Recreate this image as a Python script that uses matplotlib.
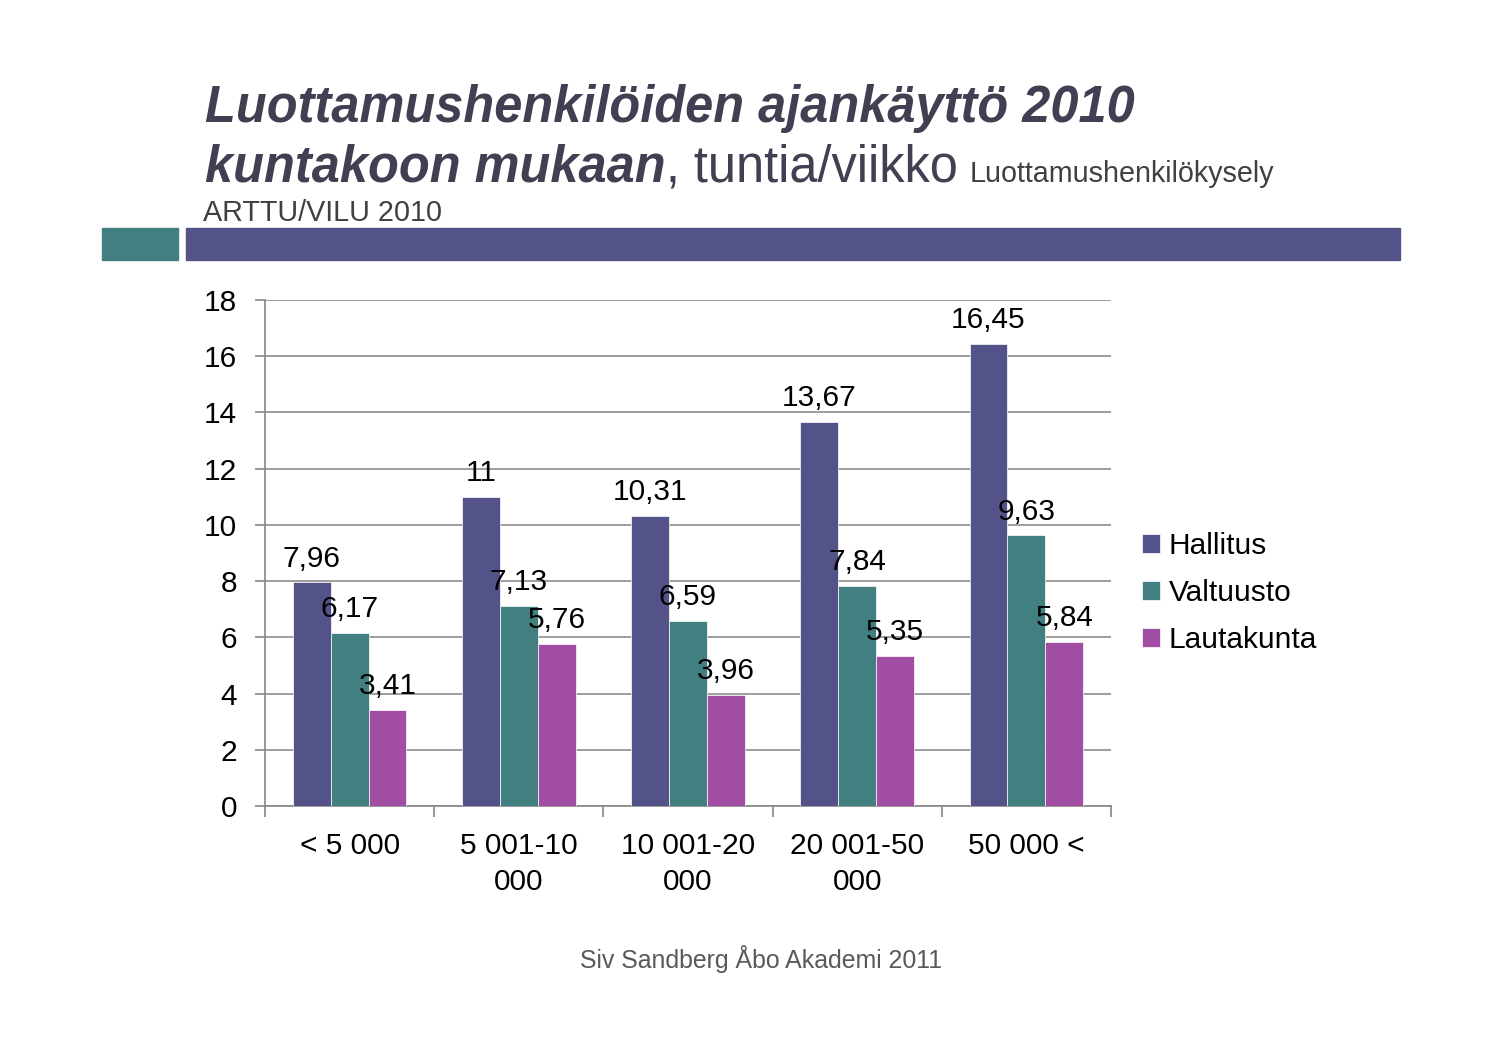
import matplotlib
matplotlib.use("Agg")
import matplotlib.pyplot as plt
import numpy as np
from matplotlib.patches import Rectangle
from matplotlib.transforms import offset_copy

categories = ["< 5 000", "5 001-10\n000", "10 001-20\n000", "20 001-50\n000", "50 000 <"]
series_names = ["Hallitus", "Valtuusto", "Lautakunta"]
hallitus = [7.96, 11, 10.31, 13.67, 16.45]
valtuusto = [6.17, 7.13, 6.59, 7.84, 9.63]
lautakunta = [3.41, 5.76, 3.96, 5.35, 5.84]
yticks = [0, 2, 4, 6, 8, 10, 12, 14, 16, 18]

colors = ["#535389", "#417F80", "#A04DA3"]
FONT = "Liberation Sans"
plt.rcParams['font.family'] = [FONT, 'DejaVu Sans']
FS = 21.5

W, H = 1505, 1063
fig = plt.figure(figsize=(W / 100, H / 100), dpi=100)

def fx(px):
    return px / W

def fy(py):
    return 1 - py / H

ax = fig.add_axes([fx(265), fy(806), fx(1111) - fx(265), fy(300) - fy(806)])

x = np.arange(len(categories))
bw = 0.224
data = [hallitus, valtuusto, lautakunta]
for i, (vals, name, c) in enumerate(zip(data, series_names, colors)):
    pos = x + (i - 1) * bw
    ax.bar(pos, vals, width=bw, color=c, label=name, zorder=3,
           edgecolor='white', linewidth=0.5)
    for xp, v in zip(pos, vals):
        lab = str(int(v)) if v == int(v) else f"{v:g}".replace('.', ',')
        ax.annotate(lab, (xp, v), xytext=(0, 7), textcoords='offset points',
                    ha='center', va='bottom', fontsize=FS, color='black', zorder=5)

ax.set_xlim(-0.5, len(categories) - 0.5)
ax.set_ylim(0, 18)
ax.set_yticks(yticks)
ax.set_yticklabels([str(t) for t in yticks], fontsize=FS)
ax.yaxis.grid(True, color='#8C8C8C', linewidth=1.2, zorder=0)
ax.set_axisbelow(True)
ax.set_xticks(np.arange(-0.5, len(categories), 1.0))
ax.set_xticklabels([])
ax.tick_params(axis='x', direction='out', length=8, color='#868686', width=1.2)
ax.tick_params(axis='y', direction='out', length=7, color='#868686', width=1.2, pad=13)
for s in ['top', 'right']:
    ax.spines[s].set_visible(False)
for s in ['left', 'bottom']:
    ax.spines[s].set_color('#868686')
    ax.spines[s].set_linewidth(1.2)

trans = offset_copy(ax.get_xaxis_transform(), fig=fig, x=0, y=-26, units='dots')
for xi, cat in zip(x, categories):
    ax.text(xi, 0, cat, ha='center', va='top', fontsize=FS,
            transform=trans, linespacing=1.38)

leg = ax.legend(loc='upper left', frameon=False,
                fontsize=FS, handlelength=0.6, handleheight=0.6, handletextpad=0.3,
                labelspacing=0.63, borderaxespad=0, borderpad=0)
leg.set_bbox_to_anchor((fx(1142), fy(532)), transform=fig.transFigure)

# header rectangles
fig.patches.append(Rectangle((fx(102), fy(260)), fx(178) - fx(102), fy(228) - fy(260),
                             transform=fig.transFigure, color='#417F80', zorder=1))
fig.patches.append(Rectangle((fx(186), fy(260)), fx(1400) - fx(186), fy(228) - fy(260),
                             transform=fig.transFigure, color='#535389', zorder=1))

tcol = '#404052'
TFS = 36.4
fig.text(fx(205), fy(122), "Luottamushenkilöiden ajankäyttö 2010", fontsize=TFS,
         fontweight='bold', fontstyle='italic', color=tcol, va='baseline', ha='left')
t1 = fig.text(fx(205), fy(182), "kuntakoon mukaan", fontsize=TFS,
              fontweight='bold', fontstyle='italic', color=tcol, va='baseline', ha='left')
fig.canvas.draw()
r = fig.canvas.get_renderer()
bb = t1.get_window_extent(r)
t2 = fig.text(bb.x1 / W, fy(182), ", tuntia/viikko", fontsize=TFS, color=tcol,
              va='baseline', ha='left')
bb2 = t2.get_window_extent(r)
fig.text(bb2.x1 / W + fx(12), fy(182), "Luottamushenkilökysely", fontsize=20.7, color='#404040',
         va='baseline', ha='left')
fig.text(fx(203), fy(221), "ARTTU/VILU 2010", fontsize=20.7, color='#404040',
         va='baseline', ha='left')

fig.text(fx(761), fy(968), "Siv Sandberg Åbo Akademi 2011", fontsize=17.9, color='#595959',
         ha='center', va='baseline')

fig.savefig("out.png", dpi=100)
